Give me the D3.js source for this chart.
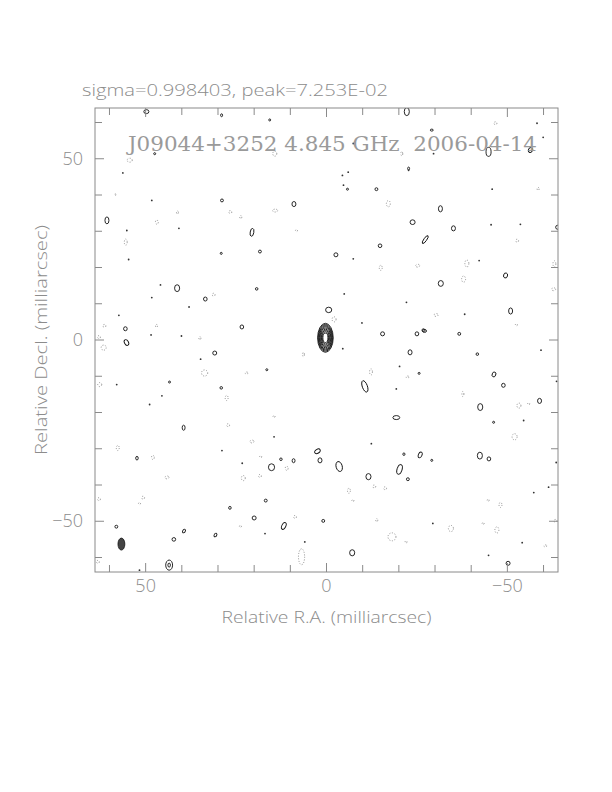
<!DOCTYPE html>
<html><head><meta charset="utf-8">
<script src="https://cdn.jsdelivr.net/npm/d3@7"></script>
<style>body{margin:0;background:#fff}</style></head>
<body><svg id="c" width="612" height="792"></svg>
<script>
// ---------- data (milliarcsec) ----------
const xDomain = [64, -64];
const yDomain = [-64, 64];
const majorTicks = [50, 0, -50];
const tickLabels = ["50", "0", "\u221250"];
const minorTicks = [60, 40, 30, 20, 10, -10, -20, -30, -40, -60];
const plotTitle = "J09044+3252 4.845 GHz  2006-04-14";
const topLabel = "sigma=0.998403, peak=7.253E-02";
const xTitle = "Relative R.A. (milliarcsec)";
const yTitle = "Relative Decl. (milliarcsec)";

// core component: centre and nested contour semi-axes
const coreX = 0.3, coreY = 0.6;
const coreRx = [2.15, 2.0, 1.85, 1.68, 1.5, 1.3, 1.1, 0.9, 0.7];
const coreRy = [4.0, 3.7, 3.4, 3.1, 2.75, 2.4, 2.05, 1.7, 1.3];

// restoring beam
const beamX = 56.7, beamY = -56.3, beamMaj = 3.3, beamMin = 1.9, beamPA = 0;

// positive noise contours: [x, y, width, height, angle]
const posBlobs = [
 [60.7,33.0,1.1,1.9,0],[28.9,38.5,0.8,0.8,0],[20.6,29.7,1.0,2.2,10],[29.1,23.9,0.55,0.55,0],
 [18.4,24.4,0.8,0.8,0],[9.0,37.5,1.1,1.4,0],[41.3,14.3,1.4,1.9,0],[33.5,11.3,1.0,1.1,0],
 [19.3,14.1,0.7,0.7,0],[55.6,3.1,1.0,1.1,0],[23.4,3.6,1.0,1.1,0],[-0.6,8.3,1.7,1.5,0],
 [-5.8,41.6,0.55,0.55,0],[-13.8,41.6,0.8,0.8,0],[-31.5,36.2,1.1,1.7,0],[-23.8,32.5,1.4,1.3,0],
 [-35.1,30.8,1.1,1.4,0],[-27.3,27.7,0.8,2.6,35],[-14.8,26.0,1.0,1.0,0],[-2.6,23.5,1.1,1.1,0],
 [-49.5,17.8,1.1,1.4,15],[-31.6,15.6,1.4,1.6,0],[-63.9,31.1,1.1,1.1,0],[-50.9,8.0,1.1,1.7,0],
 [-26.8,2.7,0.8,0.8,0],[55.3,-0.7,1.1,1.7,-30],[30.9,-3.6,1.1,1.1,0],[16.5,-8.2,0.55,0.55,0],
 [43.4,-11.6,0.55,0.55,0],[29.1,-13.2,0.7,0.7,0],[39.5,-24.2,0.8,1.4,0],[52.4,-32.6,0.7,1.0,0],
 [2.5,-30.7,1.7,1.1,-30],[1.8,-33.2,1.1,1.4,0],[12.6,-32.9,0.7,0.7,0],[9.1,-33.3,0.8,1.1,0],
 [15.2,-35.1,1.7,1.9,0],[16.8,-44.3,0.8,0.8,0],[-15.5,1.7,1.1,1.1,0],[-25.0,1.7,1.0,1.1,0],
 [-27.1,2.5,1.1,0.8,0],[-36.7,1.7,0.8,0.8,0],[-23.1,-3.4,1.1,1.4,0],[-41.7,-3.9,0.7,0.7,0],
 [-25.6,-9.2,0.55,0.55,0],[-10.6,-12.8,1.4,3.3,-20],[-46.3,-9.5,1.0,1.4,20],[-48.9,-12.5,1.0,1.1,0],
 [-42.5,-18.5,1.4,1.9,0],[-58.9,-16.8,1.1,1.4,0],[-19.3,-21.4,1.9,1.1,0],[-46.2,-22.7,0.55,0.55,0],
 [-21.4,-31.5,0.6,0.7,0],[-25.9,-31.7,1.0,1.7,25],[-29.1,-33.2,0.55,0.55,0],[-42.4,-31.9,1.4,1.9,0],
 [-44.9,-32.8,1.0,1.1,0],[-3.5,-34.9,1.7,2.8,-15],[-11.6,-37.7,1.4,1.7,0],[-20.2,-35.7,1.4,2.8,15],
 [-22.5,-38.4,0.8,0.8,0],[20.0,-49.1,1.1,1.1,0],[11.8,-51.3,1.1,2.0,25],[0.9,-49.9,0.8,0.8,0],
 [-7.1,-58.7,1.4,1.7,0],[-50.2,-61.6,1.1,1.1,0],[58.1,-51.5,0.8,0.8,0],[42.2,-55.0,1.0,1.0,0],
 [39.4,-52.7,0.7,1.1,30],[30.7,-53.8,0.7,1.1,30],[26.7,-46.3,0.7,0.8,0],[43.5,-62.1,1.9,2.8,0],
 [43.5,-62.1,0.7,1.1,0],[49.8,63.0,1.4,1.1,0],[29.0,62.0,0.55,0.8,0],[15.7,60.7,0.55,0.55,0],
 [-22.2,63.0,1.4,2.2,0],[47.5,51.4,0.55,0.55,0],[-29.1,57.9,0.8,0.55,0],[-44.8,51.9,1.4,2.5,0],
 [-56.4,52.4,1.1,1.4,30],[-22.7,47.3,0.55,0.8,0]
];

// tiny positive contours (specks): [x, y]
const posDots = [
 [55.2,30.2],[54.7,22.2],[56.3,46.1],[48.3,38.5],[40.8,30.8],[45.9,15.2],[48.3,11.7],[38.0,9.1],
 [57.4,6.8],[-4.4,45.4],[-22.7,46.8],[-7.4,22.4],[-42.2,21.9],[-45.8,41.6],[-45.5,31.8],[-53.6,31.9],
 [-4.9,12.7],[-22.1,10.4],[-9.8,4.7],[-38.2,7.1],[48.5,1.4],[40.1,1.1],[34.8,-5.3],[58.0,-12.3],
 [45.5,-15.4],[48.9,-17.8],[28.9,-30.5],[14.5,-26.7],[23.3,-34.0],[-4.5,-2.4],[-59.3,-2.8],[-20.2,-7.3],
 [-19.3,-13.5],[-63.6,-11.4],[-54.5,-22.2],[-12.4,-28.6],[-61.4,-40.6],[-57.3,-42.1],[-63.5,-33.8],[17.0,-53.4],
 [-29.4,-50.6],[6.0,-55.7],[-44.8,-59.4],[-54.1,-55.9],[51.7,-63.5],[-7.4,54.2],[-29.6,51.4],[-59.9,55.9],
 [-6.0,46.3],[-58.2,59.8],[-4.7,42.7]
];

// negative noise contours (dotted): [x, y, width, height]
const negBlobs = [
 [55.5,27.0,0.8,1.7],[58.4,40.1,0.4,0.4],[41.2,35.2,0.55,0.8],[46.9,32.5,0.8,1.1],[26.6,35.3,0.8,0.8],
 [23.7,33.9,0.55,0.8],[14.2,35.7,1.4,0.8],[8.3,30.2,0.55,0.55],[31.2,12.5,0.8,0.8],[61.4,3.9,0.8,0.8],
 [47.0,3.9,0.55,0.8],[-17.1,37.6,1.1,1.7],[-15.0,19.9,0.8,1.4],[-25.2,20.5,1.1,0.8],[-38.8,21.1,1.1,1.9],
 [-37.9,16.8,1.1,1.7],[-58.5,41.7,0.55,0.8],[-52.7,27.4,0.8,0.8],[-63.0,21.0,0.8,1.7],[-62.8,14.0,1.1,0.8],
 [-2.1,5.7,1.1,1.4],[-30.3,6.9,1.1,0.8],[-52.5,4.2,0.55,0.55],[62.9,0.8,0.8,0.8],[61.6,-2.1,1.4,1.4],
 [35.0,0.5,0.55,0.8],[33.7,-9.1,1.7,1.7],[22.1,-9.1,0.8,0.55],[6.4,-4.0,0.55,1.1],[62.7,-12.3,1.1,1.1],
 [27.6,-16.0,0.8,1.4],[27.2,-23.5,0.8,0.8],[14.5,-21.1,0.55,0.55],[57.7,-29.8,0.8,1.4],[48.0,-32.4,0.8,1.1],
 [20.6,-28.0,1.1,0.8],[18.2,-32.2,0.55,0.55],[11.0,-35.4,0.8,1.1],[44.1,-37.9,1.1,0.8],[23.0,-38.1,1.1,1.4],
 [18.4,-37.5,0.8,0.8],[62.9,-43.9,0.8,0.8],[50.7,-43.5,0.8,0.8],[-12.3,-8.8,0.8,1.7],[-22.4,-10.2,0.8,0.55],
 [-37.7,-14.9,0.55,1.4],[-53.2,-18.1,1.1,1.4],[-55.9,-17.6,0.55,0.55],[-52.0,-26.7,1.4,1.7],[-13.2,-40.4,0.8,0.8],
 [-16.2,-40.9,0.8,0.8],[-6.2,-41.6,0.8,1.4],[-44.7,-44.2,0.55,0.55],[8.7,-48.8,0.8,0.8],[-7.3,-44.3,0.55,0.55],
 [-13.9,-49.7,0.55,0.8],[-34.4,-52.0,1.4,1.7],[-18.1,-54.3,2.2,2.2],[-22.0,-55.7,0.55,0.55],[-43.3,-50.6,0.55,0.55],
 [-47.1,-52.4,1.1,1.7],[-48.1,-45.5,0.8,1.4],[-60.5,-56.8,0.8,0.55],[-63.3,-49.9,0.8,0.8],[6.9,-59.8,1.7,4.4],
 [63.2,-61.2,0.8,0.8],[54.4,49.6,1.4,1.1],[14.3,51.4,1.1,1.4],[-20.8,51.4,0.55,1.1],[-46.7,59.8,0.8,0.8],
 [23.8,-51.4,0.55,0.55],[51.7,-45.1,0.55,0.55]
];

// ---------- drawing ----------
const L = 95, R = 558, T = 108, B = 572;
const x = d3.scaleLinear().domain(xDomain).range([L, R]);
const y = d3.scaleLinear().domain(yDomain).range([B, T]);
const sx = v => Math.abs(x(v) - x(0));
const sy = v => Math.abs(y(v) - y(0));
const axisCol = "#8a8a8a", textCol = "#8c8c8c";

const svg = d3.select("#c");
svg.append("defs").append("clipPath").attr("id","clip")
  .append("rect").attr("x",L).attr("y",T).attr("width",R-L).attr("height",B-T);
const g = svg.append("g").attr("clip-path","url(#clip)");

// negative contours
g.selectAll("ellipse.neg").data(negBlobs).join("ellipse").attr("class","neg")
  .attr("cx",d=>x(d[0])).attr("cy",d=>y(d[1]))
  .attr("rx",d=>sx(d[2]/2)).attr("ry",d=>sy(d[3]/2))
  .attr("fill","none").attr("stroke","#909090").attr("stroke-width",1)
  .attr("stroke-dasharray","1,1.6");

// positive contours
g.selectAll("ellipse.pos").data(posBlobs).join("ellipse").attr("class","pos")
  .attr("transform",d=>`translate(${x(d[0])},${y(d[1])}) rotate(${d[4]})`)
  .attr("rx",d=>sx(d[2]/2)).attr("ry",d=>sy(d[3]/2))
  .attr("fill","none").attr("stroke","#111").attr("stroke-width",0.9);

g.selectAll("circle.dot").data(posDots).join("circle").attr("class","dot")
  .attr("cx",d=>x(d[0])).attr("cy",d=>y(d[1])).attr("r",sx(0.25))
  .attr("fill","#333");

// core
g.selectAll("ellipse.core").data(coreRx).join("ellipse").attr("class","core")
  .attr("cx",x(coreX)).attr("cy",y(coreY))
  .attr("rx",d=>sx(d)).attr("ry",(d,i)=>sy(coreRy[i]))
  .attr("fill","none").attr("stroke","#222").attr("stroke-width",1);

// beam
g.append("ellipse")
  .attr("transform",`translate(${x(beamX)},${y(beamY)}) rotate(${beamPA})`)
  .attr("rx",sx(beamMin/2)).attr("ry",sy(beamMaj/2))
  .attr("fill","#444").attr("stroke","#111").attr("stroke-width",0.8);

// frame
svg.append("rect").attr("x",L).attr("y",T).attr("width",R-L).attr("height",B-T)
  .attr("fill","none").attr("stroke",axisCol).attr("stroke-width",1);

// ticks on all four sides
const allTicks = majorTicks.concat(minorTicks);
const tk = svg.append("g").attr("stroke",axisCol).attr("stroke-width",1);
allTicks.forEach(v=>{
  const len = majorTicks.includes(v) ? 9 : 7;
  tk.append("line").attr("x1",x(v)).attr("x2",x(v)).attr("y1",B).attr("y2",B-len);
  tk.append("line").attr("x1",x(v)).attr("x2",x(v)).attr("y1",T).attr("y2",T+len);
  tk.append("line").attr("y1",y(v)).attr("y2",y(v)).attr("x1",L).attr("x2",L+len);
  tk.append("line").attr("y1",y(v)).attr("y2",y(v)).attr("x1",R).attr("x2",R-len);
});

const font = "'Open Sans', 'DejaVu Sans', sans-serif";
const fw = 300;
// tick labels
majorTicks.forEach((v,i)=>{
  svg.append("text").attr("x",x(v)).attr("y",B+20).attr("text-anchor","middle")
    .attr("font-family",font).attr("font-weight",fw).attr("font-size",18).attr("fill",textCol).text(tickLabels[i]);
  svg.append("text").attr("x",L-12).attr("y",y(v)+6).attr("text-anchor","end")
    .attr("font-family",font).attr("font-weight",fw).attr("font-size",18).attr("fill",textCol).text(tickLabels[i]);
});

// axis titles
svg.append("text").attr("x",(L+R)/2).attr("y",623).attr("text-anchor","middle")
  .attr("font-family",font).attr("font-weight",fw).attr("font-size",17).attr("fill",textCol)
  .attr("textLength",210).attr("lengthAdjust","spacingAndGlyphs").text(xTitle);
svg.append("text").attr("transform",`translate(47,${(T+B)/2}) rotate(-90)`)
  .attr("text-anchor","middle")
  .attr("font-family",font).attr("font-weight",fw).attr("font-size",17).attr("fill",textCol)
  .attr("textLength",230).attr("lengthAdjust","spacingAndGlyphs").text(yTitle);

// top label
svg.append("text").attr("x",82).attr("y",96)
  .attr("font-family",font).attr("font-weight",fw).attr("font-size",17).attr("fill",textCol)
  .attr("textLength",306).attr("lengthAdjust","spacingAndGlyphs").text(topLabel);

// in-plot title
svg.append("text").attr("x",128).attr("y",151).attr("xml:space","preserve")
  .attr("font-family","'DejaVu Serif', serif").attr("font-weight",200).attr("font-size",21).attr("fill","#9a9a9a")
  .attr("textLength",409).attr("lengthAdjust","spacingAndGlyphs").text(plotTitle);
</script></body></html>
